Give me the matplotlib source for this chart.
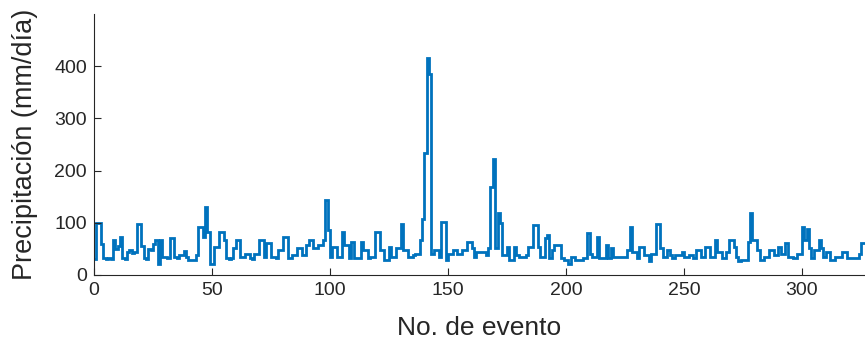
import numpy as np
import matplotlib
matplotlib.use("Agg")
import matplotlib.pyplot as plt

# precipitation per event (mm/dia), events 0..326
precip = [
    30, 100, 100, 60, 32, 30, 33, 30, 67, 50,
    55, 73, 32, 30, 45, 48, 42, 45, 97, 97,
    55, 32, 30, 50, 48, 60, 67, 22, 67, 35,
    35, 32, 70, 70, 35, 33, 38, 38, 46, 35,
    29, 29, 29, 38, 92, 92, 73, 131, 82, 22,
    22, 54, 54, 82, 82, 67, 32, 30, 32, 51,
    67, 67, 35, 35, 41, 41, 32, 30, 41, 41,
    67, 67, 35, 61, 61, 35, 35, 33, 48, 48,
    73, 73, 32, 32, 38, 38, 51, 51, 38, 38,
    57, 67, 67, 51, 51, 57, 57, 67, 143, 86,
    35, 54, 54, 35, 35, 82, 57, 57, 32, 64,
    32, 32, 32, 64, 48, 48, 32, 35, 35, 82,
    82, 48, 48, 29, 29, 54, 35, 35, 51, 51,
    98, 48, 48, 35, 35, 38, 41, 41, 67, 108,
    233, 415, 386, 41, 47, 47, 35, 102, 102, 29,
    41, 41, 47, 47, 41, 41, 47, 47, 64, 64,
    52, 35, 45, 45, 45, 45, 38, 51, 169, 223,
    51, 118, 99, 38, 38, 54, 29, 29, 54, 38,
    35, 35, 35, 38, 54, 54, 96, 96, 54, 35,
    35, 70, 77, 32, 48, 57, 57, 57, 32, 29,
    29, 22, 35, 35, 29, 29, 29, 32, 32, 80,
    41, 35, 35, 73, 32, 32, 32, 57, 32, 51,
    35, 35, 35, 35, 35, 35, 48, 92, 44, 44,
    32, 54, 54, 38, 38, 26, 41, 41, 98, 98,
    51, 35, 35, 48, 38, 32, 38, 38, 38, 44,
    35, 35, 38, 38, 32, 48, 48, 35, 35, 54,
    54, 35, 35, 67, 44, 44, 32, 32, 44, 67,
    67, 54, 35, 26, 29, 29, 29, 64, 118, 67,
    67, 48, 29, 29, 35, 35, 48, 48, 38, 38,
    54, 41, 41, 61, 35, 35, 32, 32, 41, 41,
    92, 67, 89, 51, 32, 48, 48, 67, 51, 35,
    44, 44, 29, 29, 35, 35, 35, 44, 44, 32,
    32, 32, 32, 32, 41, 61, 61,
]
xticks = [0, 50, 100, 150, 200, 250, 300]
yticks = [0, 100, 200, 300, 400]

plt.rcParams["font.family"] = ["Liberation Sans", "DejaVu Sans"]
axis_gray = "#262626"

fig = plt.figure(figsize=(8.65, 3.45), dpi=100)
ax = fig.add_axes([0.1087, 0.2029, 0.8913, 0.7561])

edges = np.arange(len(precip) + 1)
ax.stairs(precip, edges, baseline=None, color="#0072BD", linewidth=2.0)

ax.set_xlim(0, 326.7)
ax.set_ylim(0, 500)
ax.set_xticks(xticks)
ax.set_yticks(yticks)
ax.tick_params(direction="in", length=5, width=0.8, colors=axis_gray,
               labelsize=14, pad=5)

for side in ("top", "right"):
    ax.spines[side].set_visible(False)
for side in ("left", "bottom"):
    ax.spines[side].set_color(axis_gray)
    ax.spines[side].set_linewidth(0.8)

ax.set_xlabel("No. de evento", fontsize=19, color=axis_gray, labelpad=12)
ax.set_ylabel("Precipitación (mm/día)", fontsize=19.5, color=axis_gray)
ax.yaxis.set_label_coords(-0.073, 0.5)

fig.savefig("out.png", dpi=100)
